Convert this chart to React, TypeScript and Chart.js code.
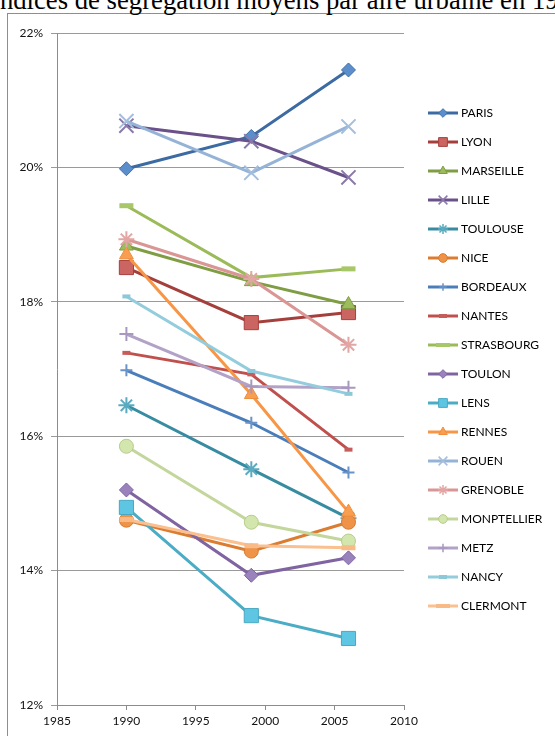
import React, { useEffect, useRef } from "react";
import { Chart, registerables } from "chart.js";

Chart.register(...registerables);

const TITLE = "Indices de ségrégation moyens par aire urbaine en 1990, 1999 et 2006";
const YEARS = [1990, 1999, 2006];
const X_TICKS = [1985, 1990, 1995, 2000, 2005, 2010];
const Y_TICKS = [12, 14, 16, 18, 20, 22];

const CITIES = [
  "PARIS", "LYON", "MARSEILLE", "LILLE", "TOULOUSE", "NICE",
  "BORDEAUX", "NANTES", "STRASBOURG", "TOULON", "LENS", "RENNES",
  "ROUEN", "GRENOBLE", "MONPTELLIER", "METZ", "NANCY", "CLERMONT",
];

const PARIS = [19.98, 20.46, 21.45];
const LYON = [18.51, 17.69, 17.84];
const MARSEILLE = [18.83, 18.3, 17.96];
const LILLE = [20.62, 20.39, 19.85];
const TOULOUSE = [16.46, 15.51, 14.78];
const NICE = [14.75, 14.29, 14.72];
const BORDEAUX = [16.98, 16.2, 15.46];
const NANTES = [17.24, 16.92, 15.8];
const STRASBOURG = [19.43, 18.36, 18.49];
const TOULON = [15.2, 13.93, 14.19];
const LENS = [14.94, 13.33, 12.99];
const RENNES = [18.7, 16.62, 14.87];
const ROUEN = [20.69, 19.92, 20.61];
const GRENOBLE = [18.93, 18.34, 17.36];
const MONPTELLIER = [15.85, 14.72, 14.44];
const METZ = [17.52, 16.74, 16.72];
const NANCY = [18.08, 16.97, 16.63];
const CLERMONT = [14.76, 14.37, 14.34];

const VALUES = [
  PARIS, LYON, MARSEILLE, LILLE, TOULOUSE, NICE,
  BORDEAUX, NANTES, STRASBOURG, TOULON, LENS, RENNES,
  ROUEN, GRENOBLE, MONPTELLIER, METZ, NANCY, CLERMONT,
];

type Style = {
  line: string;
  marker: string;
  radius: number;
  fill: string;
  stroke: string;
  bw: number;
};

const STYLES: Style[] = [
  { line: "#3B6BA2", marker: "rectRot", radius: 7, fill: "#5B8ECB", stroke: "#3E70A8", bw: 1 },
  { line: "#A53F3C", marker: "rect", radius: 10, fill: "#CB6562", stroke: "#A8403D", bw: 1 },
  { line: "#7F9D43", marker: "triangle", radius: 8, fill: "#9DBD5C", stroke: "#7F9D43", bw: 1 },
  { line: "#6A5189", marker: "crossRot", radius: 10, fill: "#8A78AA", stroke: "#8A78AA", bw: 2 },
  { line: "#378CA1", marker: "star", radius: 8, fill: "#5AAAC0", stroke: "#5AAAC0", bw: 2 },
  { line: "#DB7C30", marker: "circle", radius: 7, fill: "#EE9348", stroke: "#D77B30", bw: 1 },
  { line: "#4A7EBB", marker: "cross", radius: 6, fill: "#6A93C8", stroke: "#6A93C8", bw: 2 },
  { line: "#C0504D", marker: "line", radius: 4, fill: "#C65D5A", stroke: "#C65D5A", bw: 4 },
  { line: "#9BBB59", marker: "line", radius: 7, fill: "#A8C768", stroke: "#A8C768", bw: 5 },
  { line: "#8064A2", marker: "rectRot", radius: 7, fill: "#9A82BC", stroke: "#7F64A2", bw: 1 },
  { line: "#4BACC6", marker: "rect", radius: 10, fill: "#5EC6E2", stroke: "#49A9C3", bw: 1 },
  { line: "#F79646", marker: "triangle", radius: 8, fill: "#F99D4E", stroke: "#EE8D3E", bw: 1 },
  { line: "#95B3D7", marker: "crossRot", radius: 10, fill: "#A4BEDD", stroke: "#A4BEDD", bw: 2 },
  { line: "#D99694", marker: "star", radius: 8, fill: "#E2A6A4", stroke: "#E2A6A4", bw: 2 },
  { line: "#C3D69B", marker: "circle", radius: 7, fill: "#D3E6AE", stroke: "#B7CC8A", bw: 1 },
  { line: "#B3A2C7", marker: "cross", radius: 7, fill: "#A898C0", stroke: "#A898C0", bw: 2 },
  { line: "#93CDDD", marker: "line", radius: 4, fill: "#93CDDD", stroke: "#8CC8D8", bw: 4 },
  { line: "#FAC090", marker: "line", radius: 7, fill: "#FAC090", stroke: "#F8BA86", bw: 5 },
];

function drawMarker(
  ctx: CanvasRenderingContext2D,
  style: string,
  x: number,
  y: number,
  r: number,
  fill: string,
  stroke: string,
  bw: number
) {
  ctx.save();
  ctx.fillStyle = fill;
  ctx.strokeStyle = stroke;
  ctx.lineWidth = bw;
  ctx.beginPath();
  let filled = true;
  if (style === "circle") {
    ctx.arc(x, y, r, 0, Math.PI * 2);
  } else if (style === "rect") {
    const s = r * Math.SQRT1_2;
    ctx.rect(x - s, y - s, 2 * s, 2 * s);
  } else if (style === "rectRot") {
    ctx.moveTo(x - r, y);
    ctx.lineTo(x, y - r);
    ctx.lineTo(x + r, y);
    ctx.lineTo(x, y + r);
    ctx.closePath();
  } else if (style === "triangle") {
    let a = 0;
    ctx.moveTo(x + Math.sin(a) * r, y - Math.cos(a) * r);
    a += (2 * Math.PI) / 3;
    ctx.lineTo(x + Math.sin(a) * r, y - Math.cos(a) * r);
    a += (2 * Math.PI) / 3;
    ctx.lineTo(x + Math.sin(a) * r, y - Math.cos(a) * r);
    ctx.closePath();
  } else {
    filled = false;
    const d = r * Math.SQRT1_2;
    if (style === "cross" || style === "star") {
      ctx.moveTo(x, y - r);
      ctx.lineTo(x, y + r);
      ctx.moveTo(x - r, y);
      ctx.lineTo(x + r, y);
    }
    if (style === "crossRot" || style === "star") {
      ctx.moveTo(x - d, y - d);
      ctx.lineTo(x + d, y + d);
      ctx.moveTo(x + d, y - d);
      ctx.lineTo(x - d, y + d);
    }
    if (style === "line") {
      ctx.moveTo(x - r, y);
      ctx.lineTo(x + r, y);
    }
  }
  if (filled) ctx.fill();
  ctx.stroke();
  ctx.restore();
}

const legendPlugin = {
  id: "excelLegend",
  afterDraw(chart: any) {
    const ctx = chart.ctx as CanvasRenderingContext2D;
    ctx.save();
    CITIES.forEach((name, i) => {
      const st = STYLES[i];
      const y = 99 + 29 * i;
      ctx.strokeStyle = st.line;
      ctx.lineWidth = 3;
      ctx.beginPath();
      ctx.moveTo(420, y);
      ctx.lineTo(450, y);
      ctx.stroke();
      const scale = st.marker === "line" ? 1 : 0.62;
      drawMarker(ctx, st.marker, 435, y, st.radius * scale, st.fill, st.stroke, st.marker === "line" ? Math.min(st.bw, 4) : Math.min(st.bw, 1.5));
      ctx.fillStyle = "#000";
      ctx.font = "12px Lato";
      ctx.textBaseline = "middle";
      ctx.textAlign = "left";
      ctx.fillText(name, 453, y + 0.5);
    });
    ctx.restore();
  },
};

export default function App() {
  const canvasRef = useRef<HTMLCanvasElement | null>(null);

  useEffect(() => {
    let chart: Chart | null = null;
    let cancelled = false;
    const make = () => {
      if (cancelled || !canvasRef.current) return;
      const datasets = CITIES.map((name, i) => {
        const st = STYLES[i];
        return {
          label: name,
          data: YEARS.map((yr, j) => ({ x: yr, y: VALUES[i][j] })),
          borderColor: st.line,
          backgroundColor: st.line,
          borderWidth: 3,
          tension: 0,
          pointStyle: st.marker as any,
          pointRadius: st.radius,
          pointBackgroundColor: st.fill,
          pointBorderColor: st.stroke,
          pointBorderWidth: st.bw,
          order: CITIES.length - 1 - i,
        };
      });
      chart = new Chart(canvasRef.current, {
        type: "line",
        data: { datasets },
        plugins: [legendPlugin],
        options: {
          animation: false,
          responsive: false,
          maintainAspectRatio: false,
          events: [],
          layout: { padding: { left: 0, right: 151, top: 19, bottom: 0 } },
          plugins: { legend: { display: false }, tooltip: { enabled: false }, title: { display: false } },
          scales: {
            x: {
              type: "linear",
              min: X_TICKS[0],
              max: X_TICKS[X_TICKS.length - 1],
              afterBuildTicks: (scale: any) => {
                scale.ticks = X_TICKS.map((v) => ({ value: v }));
              },
              afterFit: (scale: any) => {
                scale.height = 31;
              },
              ticks: {
                color: "#111",
                font: { family: "Lato", size: 12 },
                padding: 4,
                maxRotation: 0,
                callback: (v: any) => String(v),
              },
              grid: {
                drawOnChartArea: false,
                drawTicks: true,
                tickLength: 5,
                color: "#8c8c8c",
              },
              border: { display: true, color: "#8c8c8c", width: 1 },
            },
            y: {
              type: "linear",
              min: Y_TICKS[0],
              max: Y_TICKS[Y_TICKS.length - 1],
              afterBuildTicks: (scale: any) => {
                scale.ticks = Y_TICKS.map((v) => ({ value: v }));
              },
              afterFit: (scale: any) => {
                scale.width = 49;
              },
              ticks: {
                color: "#111",
                font: { family: "Lato", size: 12 },
                padding: 8,
                callback: (v: any) => v + "%",
              },
              grid: {
                drawTicks: true,
                tickLength: 6,
                color: "#9a9a9a",
                lineWidth: 1,
              },
              border: { display: true, color: "#8c8c8c", width: 1 },
            },
          },
        },
      });
    };
    const fontsReady = (document as any).fonts?.load
      ? (document as any).fonts.load("12px Lato").catch(() => null)
      : Promise.resolve();
    fontsReady.then(make);
    return () => {
      cancelled = true;
      if (chart) chart.destroy();
    };
  }, []);

  return (
    <div style={{ position: "fixed", left: 0, top: 0, width: 555, height: 736, overflow: "hidden", background: "#fff" }}>
      <div
        style={{
          position: "absolute",
          left: 7,
          top: 13,
          width: 700,
          height: 800,
          border: "1px solid #8e8e8e",
          boxSizing: "border-box",
        }}
      />
      <div
        style={{
          position: "absolute",
          left: -9,
          top: -13,
          whiteSpace: "nowrap",
          fontFamily: "'Liberation Serif', 'Times New Roman', serif",
          fontSize: 26.7,
          lineHeight: "26px",
          color: "#000",
        }}
      >
        {TITLE}
      </div>
      <canvas
        ref={canvasRef}
        width={547}
        height={722}
        style={{ position: "absolute", left: 8, top: 14, width: 547, height: 722 }}
      />
    </div>
  );
}
